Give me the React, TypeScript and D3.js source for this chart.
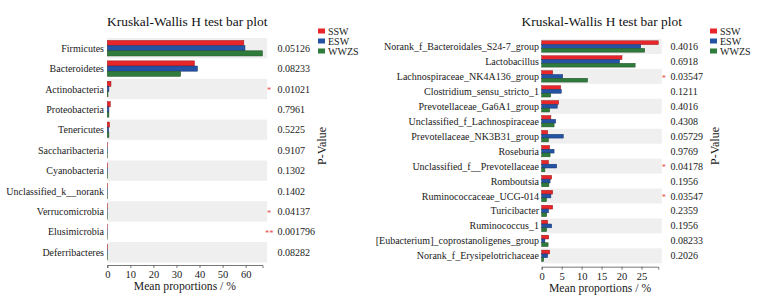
import React, { useEffect, useRef } from "react";
import * as d3 from "d3";

const seriesNames = ["SSW", "ESW", "WWZS"];
const seriesColors = ["#e8262a", "#2452a4", "#2f7b3c"];

const leftCategories = [
  "Firmicutes",
  "Bacteroidetes",
  "Actinobacteria",
  "Proteobacteria",
  "Tenericutes",
  "Saccharibacteria",
  "Cyanobacteria",
  "Unclassified_k__norank",
  "Verrucomicrobia",
  "Elusimicrobia",
  "Deferribacteres",
];
const leftSSW = [59.2, 37.8, 1.6, 1.3, 1.0, 0.1, 0.15, 0.1, 0.08, 0.03, 0.12];
const leftESW = [59.7, 39.1, 0.7, 0.7, 0.6, 0.1, 0.15, 0.1, 0.02, 0.02, 0.12];
const leftWWZS = [67.3, 31.8, 0.3, 0.7, 0.7, 0.1, 0.15, 0.1, 0.08, 0.02, 0.12];
const leftPValues = ["0.05126", "0.08233", "0.01021", "0.7961", "0.5225", "0.9107", "0.1302", "0.1402", "0.04137", "0.001796", "0.08282"];
const leftTicks = [0, 10, 20, 30, 40, 50, 60];

const rightCategories = [
  "Norank_f_Bacteroidales_S24-7_group",
  "Lactobacillus",
  "Lachnospiraceae_NK4A136_group",
  "Clostridium_sensu_stricto_1",
  "Prevotellaceae_Ga6A1_group",
  "Unclassified_f_Lachnospiraceae",
  "Prevotellaceae_NK3B31_group",
  "Roseburia",
  "Unclassified_f__Prevotellaceae",
  "Romboutsia",
  "Ruminococcaceae_UCG-014",
  "Turicibacter",
  "Ruminococcus_1",
  "[Eubacterium]_coprostanoligenes_group",
  "Norank_f_Erysipelotrichaceae",
];
const rightSSW = [29.2, 20.1, 2.75, 4.75, 4.25, 2.3, 1.5, 2.0, 1.7, 2.5, 2.75, 2.75, 1.5, 1.75, 2.0];
const rightESW = [24.8, 19.5, 5.25, 4.9, 3.9, 3.5, 5.4, 3.1, 3.75, 2.1, 2.3, 1.7, 2.5, 0.8, 1.5];
const rightWWZS = [25.8, 23.4, 11.5, 2.25, 2.0, 3.1, 1.7, 2.1, 0.8, 1.8, 1.2, 1.25, 1.25, 1.6, 0.5];
const rightPValues = ["0.4016", "0.6918", "0.03547", "0.1211", "0.4016", "0.4308", "0.05729", "0.9769", "0.04178", "0.1956", "0.03547", "0.2359", "0.1956", "0.08233", "0.2026"];
const rightTicks = [0, 5, 10, 15, 20, 25];

const FONT = "Liberation Serif";
const LABEL_SIZE = 10;
const TEXT_FILL = "#1a1a1a";

type PanelProps = {
  categories: string[];
  values: number[][];
  pvalues: string[];
  ticks: number[];
  xRange: [number, number];
  yRange: [number, number];
  axisY: number;
  labelX: number;
  pX: number;
  pLabelX: number;
  legendX: number;
};

function Panel(props: PanelProps) {
  const ref = useRef<SVGGElement>(null);
  const { categories, values, pvalues, ticks, xRange, yRange, axisY, labelX, pX, pLabelX, legendX } = props;
  const maxV = d3.max(values.flat()) as number;
  const x = d3.scaleLinear().domain([0, maxV]).range(xRange);
  const y = d3.scaleBand().domain(categories).range(yRange).padding(0);
  const inner = d3
    .scaleBand()
    .domain(seriesNames)
    .range([y.bandwidth() * 0.12, y.bandwidth() * 0.88])
    .padding(0);
  const bandEnd = x(maxV * 1.03);

  useEffect(() => {
    if (!ref.current) return;
    const g = d3.select(ref.current);
    g.selectAll("*").remove();
    const axis = d3
      .axisBottom(x)
      .tickValues(ticks)
      .tickSize(3)
      .tickSizeOuter(3)
      .tickPadding(3)
      .tickFormat(d3.format("d") as any);
    const ag = g.append("g").attr("transform", `translate(0,${axisY})`).call(axis);
    ag.attr("font-family", FONT);
    ag.select(".domain").attr("stroke", "#555").attr("stroke-width", 0.8);
    ag.selectAll(".tick line").attr("stroke", "#555").attr("stroke-width", 0.8);
    ag.selectAll(".tick text")
      .attr("font-family", FONT)
      .attr("font-size", 10.5)
      .attr("fill", TEXT_FILL);
  }, []);

  const midX = (xRange[0] + bandEnd) / 2;

  return (
    <g>
      <text x={midX} y={26} textAnchor="middle" fontFamily={FONT} fontSize={13.4} fill="#111">
        Kruskal-Wallis H test bar plot
      </text>
      {categories.map((c, i) =>
        i % 2 === 0 ? (
          <rect
            key={"bg" + c}
            x={xRange[0]}
            y={y(c) as number}
            width={bandEnd - xRange[0]}
            height={y.bandwidth()}
            fill="#efefef"
          />
        ) : null
      )}
      {categories.map((c, i) => (
        <g key={"row" + c} transform={`translate(0,${y(c)})`}>
          {seriesNames.map((s, k) => (
            <rect
              key={s}
              x={x(0)}
              y={inner(s) as number}
              width={Math.max(0, x(values[k][i]) - x(0))}
              height={inner.bandwidth()}
              fill={seriesColors[k]}
              stroke={d3.color(seriesColors[k])!.darker(1.2).formatHex()}
              strokeWidth={0.5}
            />
          ))}
          <text
            x={labelX}
            y={y.bandwidth() / 2}
            dy="0.35em"
            textAnchor="end"
            fontFamily={FONT}
            fontSize={LABEL_SIZE}
            fill={TEXT_FILL}
          >
            {c}
          </text>
          <text x={pX} y={y.bandwidth() / 2} dy="0.35em" fontFamily={FONT} fontSize={LABEL_SIZE} fill={TEXT_FILL}>
            {pvalues[i]}
          </text>
          {+pvalues[i] < 0.05 ? (
            <text
              x={bandEnd + 2}
              y={y.bandwidth() / 2}
              dy="0.5em"
              textAnchor="middle"
              fontFamily={FONT}
              fontSize={8.5}
              fill="#e8454a"
            >
              {+pvalues[i] < 0.01 ? "**" : "*"}
            </text>
          ) : null}
        </g>
      ))}
      <g ref={ref} />
      <text
        x={(xRange[0] + xRange[1]) / 2}
        y={axisY + 25}
        textAnchor="middle"
        fontFamily={FONT}
        fontSize={11.7}
        fill={TEXT_FILL}
      >
        Mean proportions / %
      </text>
      <text
        transform={`translate(${pLabelX},146) rotate(-90)`}
        textAnchor="middle"
        dy="0.35em"
        fontFamily={FONT}
        fontSize={12}
        fill={TEXT_FILL}
      >
        P-Value
      </text>
      {seriesNames.map((s, k) => (
        <g key={"lg" + s} transform={`translate(${legendX},${31 + k * 10})`}>
          <rect x={0} y={-2.5} width={7} height={5} fill={seriesColors[k]} />
          <text x={10} y={0} dy="0.35em" fontFamily={FONT} fontSize={LABEL_SIZE} fill={TEXT_FILL}>
            {s}
          </text>
        </g>
      ))}
    </g>
  );
}

export default function App() {
  return (
    <svg
      width={765}
      height={299}
      style={{ position: "absolute", left: 0, top: 0, background: "#fff" }}
    >
      <Panel
        categories={leftCategories}
        values={[leftSSW, leftESW, leftWWZS]}
        pvalues={leftPValues}
        ticks={leftTicks}
        xRange={[107.3, 262.5]}
        yRange={[38, 262.5]}
        axisY={265}
        labelX={104}
        pX={277.5}
        pLabelX={321.5}
        legendX={318}
      />
      <Panel
        categories={rightCategories}
        values={[rightSSW, rightESW, rightWWZS]}
        pvalues={rightPValues}
        ticks={rightTicks}
        xRange={[541.7, 658.3]}
        yRange={[39, 263.3]}
        axisY={266.7}
        labelX={539}
        pX={670.5}
        pLabelX={715}
        legendX={710}
      />
    </svg>
  );
}
